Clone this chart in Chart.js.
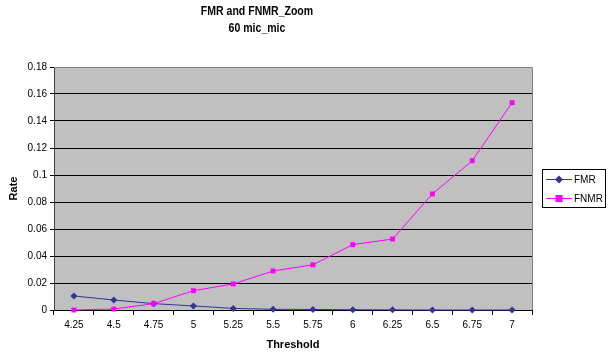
<!DOCTYPE html>
<html><head><meta charset="utf-8">
<script src="https://cdn.jsdelivr.net/npm/chart.js@4"></script>
<style>html,body{margin:0;padding:0;background:#fff}#wrap{width:613px;height:354px}</style>
</head><body><div id="wrap"><canvas id="c" width="613" height="354"></canvas></div>
<script>
const categories = ['4.25','4.5','4.75','5','5.25','5.5','5.75','6','6.25','6.5','6.75','7'];
const fmrValues = [0.0104,0.0074,0.0047,0.0030,0.0012,0.0005,0.0004,0.0002,0.0001,0,0,0];
const fnmrValues = [0,0.0007,0.0047,0.0143,0.0193,0.0289,0.0335,0.0484,0.0526,0.0860,0.1106,0.1536];
const titleLines = ['FMR and FNMR_Zoom','60 mic_mic'];
const seriesNames = ['FMR','FNMR'];
const seriesColors = ['#333399','#FF00FF'];
const FONT = '"Liberation Sans", Arial, sans-serif';

const decor = {
  id:'decor',
  beforeDraw(chart){
    const {ctx, chartArea:a} = chart;
    ctx.save();
    ctx.fillStyle = '#C0C0C0';
    ctx.fillRect(a.left, a.top, a.right-a.left, a.bottom-a.top);
    ctx.restore();
  },
  afterDatasetsDraw(chart){
    const {ctx, chartArea:a} = chart;
    ctx.save();
    ctx.strokeStyle = '#808080'; ctx.lineWidth = 1;
    ctx.beginPath();
    ctx.moveTo(a.left, a.top+0.5); ctx.lineTo(a.right+0.5, a.top+0.5); ctx.lineTo(a.right+0.5, a.bottom);
    ctx.stroke();
    // title (condensed bold)
    ctx.save();
    ctx.fillStyle = '#000';
    ctx.font = 'bold 13px ' + FONT;
    ctx.textAlign = 'center'; ctx.textBaseline = 'middle';
    const sx = 0.81;
    ctx.translate(257, 0); ctx.scale(sx, 1);
    titleLines.forEach((t,i)=>ctx.fillText(t, 0, 11.5 + i*16.5));
    ctx.restore();
    // legend
    const lx = 542, ly = 169, lw = 63, lh = 38;
    ctx.fillStyle = '#fff';
    ctx.fillRect(lx, ly, lw, lh);
    ctx.strokeStyle = '#000';
    ctx.strokeRect(lx+0.5, ly+0.5, lw, lh);
    ctx.font = '10px ' + FONT;
    ctx.textAlign = 'left'; ctx.textBaseline = 'middle';
    chart.data.datasets.slice().sort((p,q)=>seriesNames.indexOf(p.label)-seriesNames.indexOf(q.label)).forEach((ds,i)=>{
      const y = ly + 10.5 + i*19;
      ctx.strokeStyle = ds.borderColor; ctx.lineWidth = 1;
      ctx.beginPath(); ctx.moveTo(lx+4, y); ctx.lineTo(lx+30, y); ctx.stroke();
      ctx.fillStyle = ds.backgroundColor;
      ctx.beginPath();
      if (ds.pointStyle === 'rectRot') {
        ctx.moveTo(lx+17, y-4); ctx.lineTo(lx+21, y); ctx.lineTo(lx+17, y+4); ctx.lineTo(lx+13, y); ctx.closePath();
      } else {
        ctx.rect(lx+13.5, y-3.5, 7, 7);
      }
      ctx.fill();
      ctx.fillStyle = '#000';
      ctx.fillText(ds.label, lx+32, y+1);
    });
    ctx.restore();
  }
};

new Chart(document.getElementById('c'), {
  type:'line',
  data:{
    labels: categories,
    datasets:[
      {label:seriesNames[0], data:fmrValues, borderColor:seriesColors[0], backgroundColor:seriesColors[0], borderWidth:1, pointStyle:'rectRot', pointRadius:3.5, pointBorderWidth:0, tension:0, order:2, clip:false},
      {label:seriesNames[1], data:fnmrValues, borderColor:seriesColors[1], backgroundColor:seriesColors[1], borderWidth:1, pointStyle:'rect', pointRadius:3.5, pointBorderWidth:0, tension:0, order:1, clip:false}
    ]
  },
  options:{
    responsive:false, animation:false, devicePixelRatio:1,
    layout:{padding:{top:67, right:81, left:0, bottom:0}},
    plugins:{legend:{display:false}, title:{display:false}, tooltip:{enabled:false}},
    scales:{
      x:{
        offset:true,
        afterFit(s){ s.height = 44; },
        grid:{offset:true, drawOnChartArea:false, drawTicks:true, tickLength:5, color:'#000'},
        border:{color:'#000'},
        ticks:{color:'#000', font:{family:FONT, size:10}, padding:4, maxRotation:0, autoSkip:false},
        title:{display:true, text:'Threshold', color:'#000', font:{family:FONT, size:11, weight:'bold'}, padding:{top:0, bottom:2}}
      },
      y:{
        min:0, max:0.18,
        afterFit(s){ s.width = 54; },
        grid:{color:'#000', tickLength:4},
        border:{color:'#404040'},
        ticks:{stepSize:0.02, color:'#000', font:{family:FONT, size:10}, padding:3,
          callback:v=>String(Number(v.toFixed(2)))},
        title:{display:true, text:'Rate', color:'#000', font:{family:FONT, size:11, weight:'bold'}, padding:{top:7, bottom:0}}
      }
    }
  },
  plugins:[decor]
});
</script></body></html>
